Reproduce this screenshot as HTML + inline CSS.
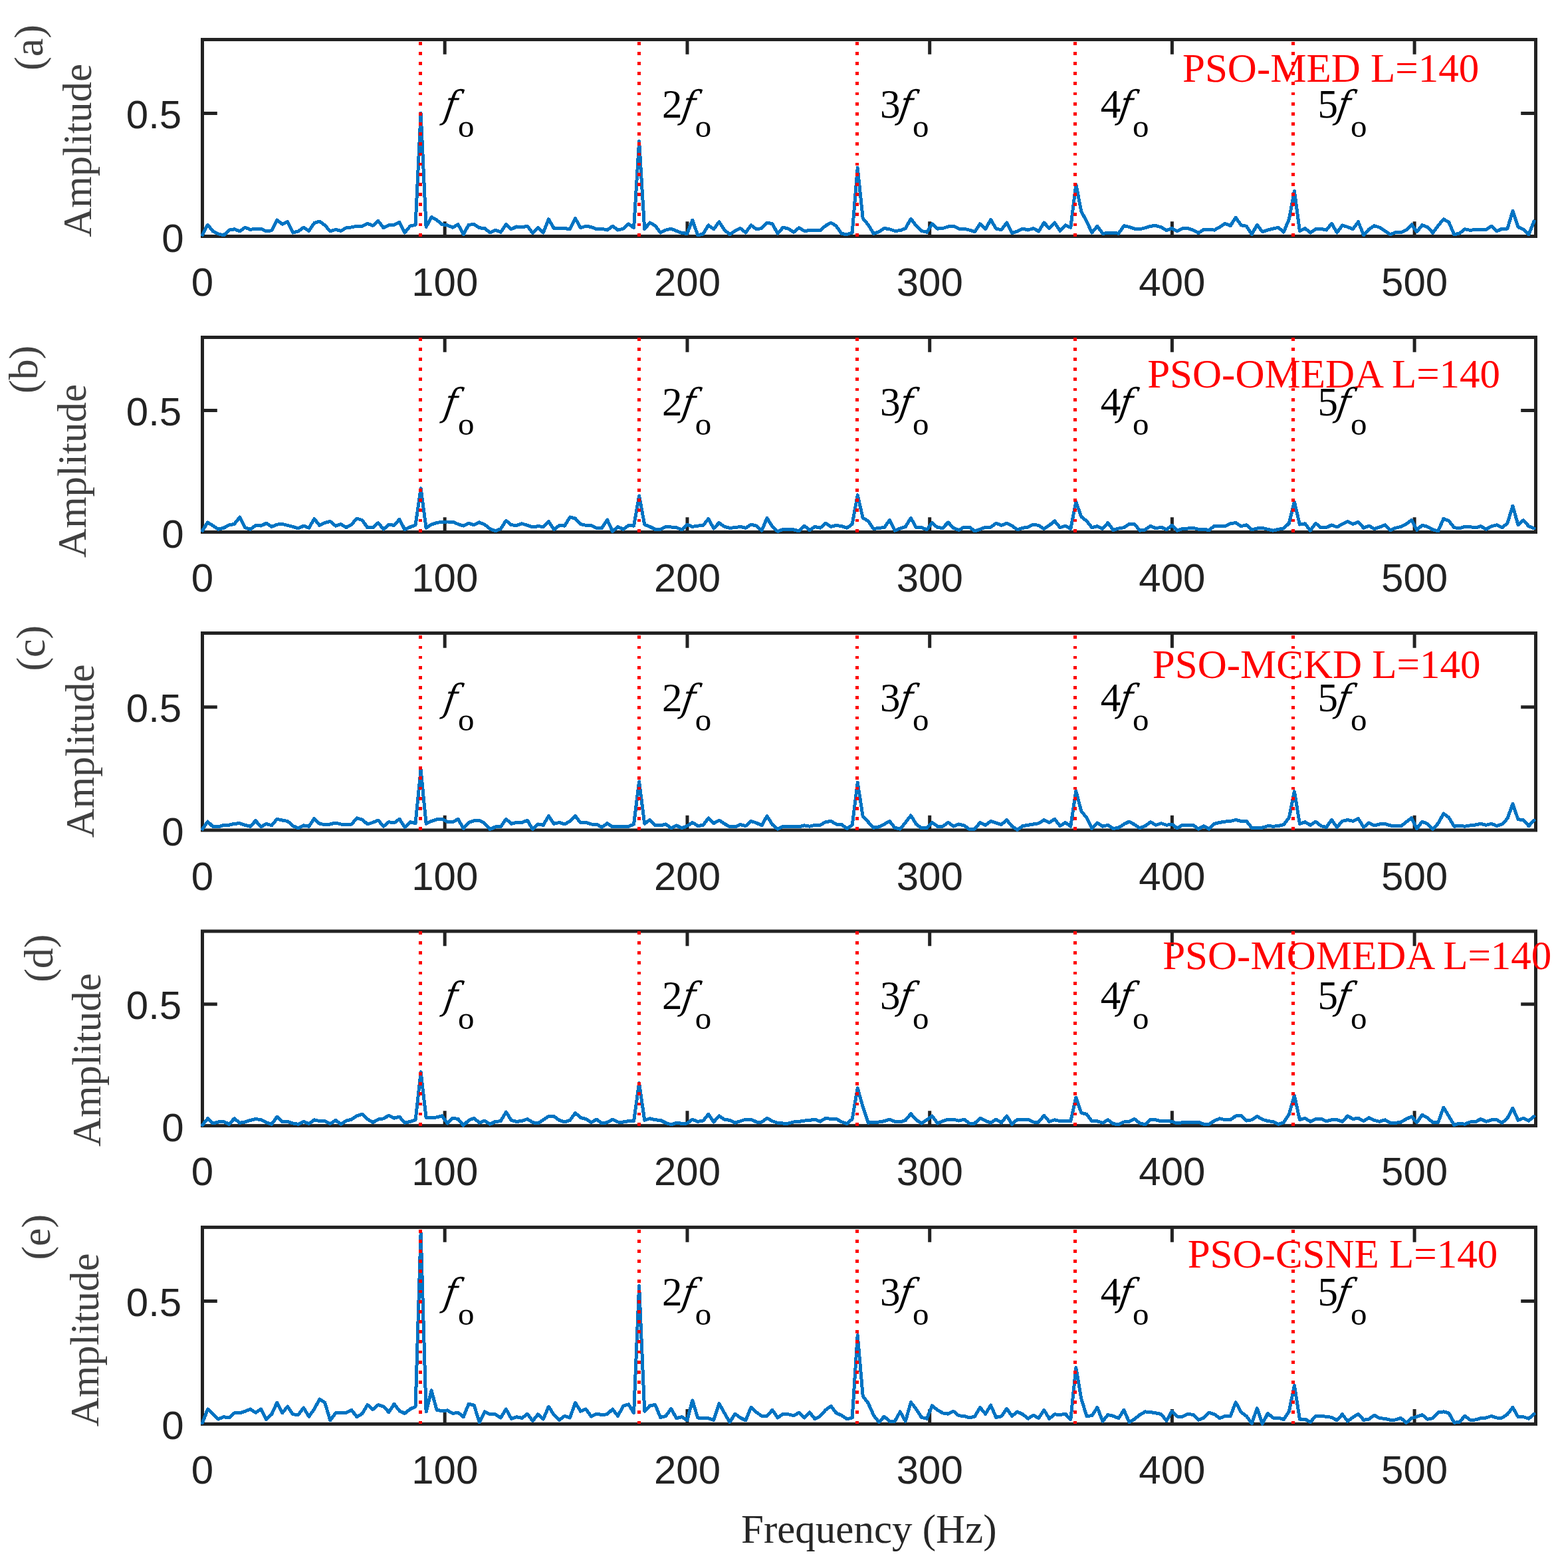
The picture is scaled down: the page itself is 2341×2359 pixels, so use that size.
<!DOCTYPE html><html><head><meta charset="utf-8"><title>Spectra</title><style>html,body{margin:0;padding:0;background:#fff;}svg{display:block;}.tk{font-family:"Liberation Sans",Arial,sans-serif;font-size:60px;fill:#222;}.sf{font-family:"Liberation Serif","Times New Roman",serif;}</style></head><body>
<svg xmlns="http://www.w3.org/2000/svg" width="2341" height="2359" viewBox="0 0 2341 2359">
<rect x="0" y="0" width="2341" height="2359" fill="#fff"/>
<g><rect x="304.5" y="59.5" width="2006.0" height="296.0" fill="none" stroke="#222" stroke-width="5.0"/><path d="M669.2 355.5V333.2M669.2 59.5V81.8M1034.0 355.5V333.2M1034.0 59.5V81.8M1398.7 355.5V333.2M1398.7 59.5V81.8M1763.4 355.5V333.2M1763.4 59.5V81.8M2128.1 355.5V333.2M2128.1 59.5V81.8M304.5 170.5H326.8M2310.5 170.5H2288.2" stroke="#222" stroke-width="5.0" fill="none"/><polyline points="304.5,353.2 312.5,338.2 320.5,348.0 328.5,351.9 336.6,353.9 344.6,346.1 352.6,344.8 360.6,348.0 368.6,342.2 376.6,345.4 384.6,344.1 392.7,344.1 400.7,348.0 408.7,346.7 416.7,331.1 424.7,337.2 432.7,333.7 440.7,350.0 448.8,348.0 456.8,342.2 464.8,347.4 472.8,335.6 480.8,333.0 488.8,338.9 496.8,348.0 504.9,345.4 512.9,347.4 520.9,342.8 528.9,341.9 536.9,340.2 544.9,340.2 552.9,336.3 560.9,339.6 569.0,332.4 577.0,342.8 585.0,338.9 593.0,338.2 601.0,334.3 609.0,350.0 617.0,340.2 625.1,338.2 633.1,170.2 641.1,341.5 649.1,326.5 657.1,331.1 665.1,337.6 673.1,338.9 681.2,342.2 689.2,337.6 697.2,352.6 705.2,338.2 713.2,337.6 721.2,342.8 729.2,343.5 737.3,350.0 745.3,346.1 753.3,349.3 761.3,337.6 769.3,344.8 777.3,340.9 785.3,341.8 793.4,340.2 801.4,350.6 809.4,342.2 817.4,350.0 825.4,329.8 833.4,343.5 841.4,343.5 849.5,343.5 857.5,344.8 865.5,328.5 873.5,342.8 881.5,340.2 889.5,341.5 897.5,344.8 905.5,344.1 913.6,346.1 921.6,340.2 929.6,346.1 937.6,344.1 945.6,336.9 953.6,342.8 961.6,212.5 969.7,344.8 977.7,335.0 985.7,339.6 993.7,350.0 1001.7,346.1 1009.7,344.1 1017.7,347.4 1025.8,350.6 1033.8,351.3 1041.8,331.1 1049.8,353.9 1057.8,351.9 1065.8,338.9 1073.8,344.8 1081.9,333.7 1089.9,346.1 1097.9,352.6 1105.9,347.4 1113.9,343.5 1121.9,350.0 1129.9,338.9 1138.0,344.8 1146.0,343.5 1154.0,335.0 1162.0,336.9 1170.0,351.3 1178.0,342.2 1186.0,344.1 1194.1,349.3 1202.1,342.8 1210.1,347.4 1218.1,346.7 1226.1,346.7 1234.1,346.7 1242.1,339.6 1250.2,335.0 1258.2,340.2 1266.2,351.6 1274.2,352.6 1282.2,350.0 1290.2,252.4 1298.2,328.5 1306.2,338.2 1314.3,351.3 1322.3,348.7 1330.3,343.5 1338.3,344.8 1346.3,347.4 1354.3,346.7 1362.3,343.5 1370.4,329.1 1378.4,339.6 1386.4,347.4 1394.4,349.3 1402.4,336.9 1410.4,344.1 1418.4,343.5 1426.5,340.9 1434.5,340.2 1442.5,344.1 1450.5,344.1 1458.5,346.1 1466.5,348.7 1474.5,336.9 1482.6,344.8 1490.6,330.4 1498.6,344.1 1506.6,345.8 1514.6,335.0 1522.6,350.6 1530.6,348.0 1538.7,344.1 1546.7,346.1 1554.7,343.5 1562.7,348.0 1570.7,335.0 1578.7,343.5 1586.7,335.0 1594.8,347.4 1602.8,338.9 1610.8,342.2 1618.8,277.4 1626.8,318.0 1634.8,333.0 1642.8,350.0 1650.9,340.2 1658.9,351.3 1666.9,350.6 1674.9,350.0 1682.9,351.3 1690.9,339.6 1698.9,341.5 1706.9,344.1 1715.0,344.8 1723.0,342.8 1731.0,340.2 1739.0,339.6 1747.0,341.8 1755.0,346.7 1763.0,343.5 1771.1,348.0 1779.1,343.5 1787.1,343.5 1795.1,346.1 1803.1,350.6 1811.1,345.4 1819.1,345.4 1827.2,346.1 1835.2,341.5 1843.2,336.3 1851.2,339.6 1859.2,327.2 1867.2,338.9 1875.2,340.2 1883.3,352.6 1891.3,338.2 1899.3,348.7 1907.3,346.1 1915.3,344.1 1923.3,342.2 1931.3,349.3 1939.4,329.8 1947.4,287.4 1955.4,347.4 1963.4,343.5 1971.4,350.0 1979.4,344.8 1987.4,344.4 1995.5,346.1 2003.5,336.3 2011.5,350.0 2019.5,338.9 2027.5,341.5 2035.5,344.8 2043.5,333.7 2051.6,353.9 2059.6,344.8 2067.6,339.6 2075.6,342.2 2083.6,347.4 2091.6,352.6 2099.6,349.7 2107.6,350.0 2115.7,346.1 2123.7,337.9 2131.7,348.7 2139.7,338.6 2147.7,341.8 2155.7,350.3 2163.7,339.6 2171.8,329.8 2179.8,334.3 2187.8,352.9 2195.8,351.0 2203.8,344.8 2211.8,346.4 2219.8,345.4 2227.9,345.4 2235.9,345.4 2243.9,340.2 2251.9,348.0 2259.9,344.1 2267.9,344.1 2275.9,317.4 2284.0,341.5 2292.0,345.4 2300.0,352.6 2308.0,333.0" fill="none" stroke="#0073C2" stroke-width="5.0" stroke-linejoin="round" stroke-linecap="round" shape-rendering="crispEdges"/><path d="M632.8 355.5V59.5M961.0 355.5V59.5M1289.3 355.5V59.5M1617.5 355.5V59.5M1945.8 355.5V59.5" stroke="#f00" stroke-width="5" stroke-dasharray="4.8 10.35" fill="none" shape-rendering="crispEdges"/><text class="tk" x="304.5" y="445.1" text-anchor="middle">0</text><text class="tk" x="669.2" y="445.1" text-anchor="middle">100</text><text class="tk" x="1034.0" y="445.1" text-anchor="middle">200</text><text class="tk" x="1398.7" y="445.1" text-anchor="middle">300</text><text class="tk" x="1763.4" y="445.1" text-anchor="middle">400</text><text class="tk" x="2128.1" y="445.1" text-anchor="middle">500</text><text class="tk" x="276.6" y="378.5" text-anchor="end">0</text><text class="tk" x="273.2" y="193.1" text-anchor="end">0.5</text><text transform="translate(665.9,176.9) skewX(-9)" x="0" y="0" font-style="italic" font-family="DejaVu Serif Condensed, Liberation Serif, serif" font-size="57">f</text><text class="sf" font-size="49" x="689.1" y="206.4">o</text><text class="sf" font-size="61" x="996.1" y="176.9">2</text><text transform="translate(1023.9,176.9) skewX(-9)" x="0" y="0" font-style="italic" font-family="DejaVu Serif Condensed, Liberation Serif, serif" font-size="57">f</text><text class="sf" font-size="49" x="1045.8" y="206.4">o</text><text class="sf" font-size="61" x="1324.1" y="176.9">3</text><text transform="translate(1351.0,176.9) skewX(-9)" x="0" y="0" font-style="italic" font-family="DejaVu Serif Condensed, Liberation Serif, serif" font-size="57">f</text><text class="sf" font-size="49" x="1373.1" y="206.4">o</text><text class="sf" font-size="61" x="1655.8" y="176.9">4</text><text transform="translate(1682.0,176.9) skewX(-9)" x="0" y="0" font-style="italic" font-family="DejaVu Serif Condensed, Liberation Serif, serif" font-size="57">f</text><text class="sf" font-size="49" x="1704.1" y="206.4">o</text><text class="sf" font-size="61" x="1982.4" y="176.9">5</text><text transform="translate(2009.5,176.9) skewX(-9)" x="0" y="0" font-style="italic" font-family="DejaVu Serif Condensed, Liberation Serif, serif" font-size="57">f</text><text class="sf" font-size="49" x="2032.1" y="206.4">o</text><text class="sf" x="1779.0" y="123.1" font-size="61" fill="#f00">PSO-MED L=140</text><text class="sf" transform="translate(64.2,106.0) rotate(-90)" font-size="62" fill="#404040">(a)</text><text class="sf" transform="translate(137.0,356.8) rotate(-90)" font-size="61" fill="#404040">Amplitude</text></g>
<g><rect x="304.5" y="507.5" width="2006.0" height="293.0" fill="none" stroke="#222" stroke-width="5.0"/><path d="M669.2 800.5V778.2M669.2 507.5V529.8M1034.0 800.5V778.2M1034.0 507.5V529.8M1398.7 800.5V778.2M1398.7 507.5V529.8M1763.4 800.5V778.2M1763.4 507.5V529.8M2128.1 800.5V778.2M2128.1 507.5V529.8M304.5 617.4H326.8M2310.5 617.4H2288.2" stroke="#222" stroke-width="5.0" fill="none"/><polyline points="304.5,798.2 312.5,785.9 320.5,791.1 328.5,796.3 336.6,794.3 344.6,789.8 352.6,788.5 360.6,778.0 368.6,793.7 376.6,796.3 384.6,790.4 392.7,791.1 400.7,787.2 408.7,792.4 416.7,789.1 424.7,788.5 432.7,790.4 440.7,792.4 448.8,795.0 456.8,791.1 464.8,794.3 472.8,780.6 480.8,790.4 488.8,786.5 496.8,784.5 504.9,791.1 512.9,788.5 520.9,793.7 528.9,789.1 536.9,780.0 544.9,782.6 552.9,793.7 560.9,793.7 569.0,786.5 577.0,796.3 585.0,789.1 593.0,790.4 601.0,781.3 609.0,796.9 617.0,793.0 625.1,789.8 633.1,734.7 641.1,794.3 649.1,789.1 657.1,786.5 665.1,785.2 673.1,785.0 681.2,785.2 689.2,788.5 697.2,791.1 705.2,787.2 713.2,789.8 721.2,785.9 729.2,789.1 737.3,795.6 745.3,798.9 753.3,795.6 761.3,783.2 769.3,789.8 777.3,790.4 785.3,787.8 793.4,790.4 801.4,793.0 809.4,791.7 817.4,792.4 825.4,784.5 833.4,796.9 841.4,790.4 849.5,791.1 857.5,778.0 865.5,780.0 873.5,788.5 881.5,790.4 889.5,790.4 897.5,794.3 905.5,794.3 913.6,782.0 921.6,799.5 929.6,792.4 937.6,796.3 945.6,790.4 953.6,791.1 961.6,745.8 969.7,789.1 977.7,792.4 985.7,796.3 993.7,796.3 1001.7,792.4 1009.7,793.0 1017.7,793.7 1025.8,796.9 1033.8,789.1 1041.8,792.4 1049.8,791.1 1057.8,790.4 1065.8,780.6 1073.8,795.0 1081.9,786.5 1089.9,792.4 1097.9,794.3 1105.9,793.7 1113.9,792.4 1121.9,794.3 1129.9,789.1 1138.0,791.1 1146.0,798.2 1154.0,779.3 1162.0,792.4 1170.0,799.5 1178.0,796.3 1186.0,796.3 1194.1,796.9 1202.1,798.9 1210.1,791.1 1218.1,797.6 1226.1,792.4 1234.1,794.3 1242.1,787.2 1250.2,792.4 1258.2,790.4 1266.2,791.7 1274.2,794.3 1282.2,788.5 1290.2,744.8 1298.2,779.3 1306.2,783.9 1314.3,795.6 1322.3,794.3 1330.3,793.7 1338.3,782.6 1346.3,798.2 1354.3,795.0 1362.3,792.4 1370.4,779.3 1378.4,793.7 1386.4,793.7 1394.4,796.9 1402.4,786.5 1410.4,793.7 1418.4,794.3 1426.5,785.9 1434.5,794.3 1442.5,797.6 1450.5,793.0 1458.5,793.0 1466.5,798.9 1474.5,796.3 1482.6,793.0 1490.6,793.0 1498.6,787.2 1506.6,790.4 1514.6,787.2 1522.6,791.1 1530.6,796.9 1538.7,794.3 1546.7,793.0 1554.7,789.1 1562.7,790.4 1570.7,795.6 1578.7,790.4 1586.7,783.9 1594.8,793.7 1602.8,791.1 1610.8,795.6 1618.8,755.0 1626.8,777.4 1634.8,783.9 1642.8,793.7 1650.9,791.7 1658.9,795.6 1666.9,786.5 1674.9,797.6 1682.9,795.0 1690.9,793.7 1698.9,788.5 1706.9,788.5 1715.0,798.2 1723.0,796.9 1731.0,791.1 1739.0,795.0 1747.0,793.0 1755.0,796.9 1763.0,790.4 1771.1,798.2 1779.1,795.6 1787.1,795.0 1795.1,794.3 1803.1,796.3 1811.1,796.3 1819.1,797.6 1827.2,791.1 1835.2,791.1 1843.2,791.7 1851.2,787.8 1859.2,786.5 1867.2,791.7 1875.2,789.8 1883.3,796.9 1891.3,795.0 1899.3,794.3 1907.3,796.3 1915.3,798.2 1923.3,796.3 1931.3,795.0 1939.4,787.2 1947.4,755.0 1955.4,789.1 1963.4,787.8 1971.4,798.2 1979.4,787.2 1987.4,794.0 1995.5,793.7 2003.5,789.8 2011.5,793.0 2019.5,788.5 2027.5,784.5 2035.5,788.5 2043.5,785.2 2051.6,794.3 2059.6,791.1 2067.6,795.6 2075.6,793.0 2083.6,789.8 2091.6,797.6 2099.6,794.3 2107.6,792.4 2115.7,788.5 2123.7,782.3 2131.7,797.3 2139.7,790.1 2147.7,792.4 2155.7,796.9 2163.7,798.9 2171.8,780.3 2179.8,783.6 2187.8,793.7 2195.8,795.0 2203.8,792.0 2211.8,792.7 2219.8,794.0 2227.9,791.7 2235.9,796.3 2243.9,791.7 2251.9,789.8 2259.9,793.7 2267.9,787.2 2275.9,761.1 2284.0,789.8 2292.0,782.6 2300.0,791.7 2308.0,795.0" fill="none" stroke="#0073C2" stroke-width="5.0" stroke-linejoin="round" stroke-linecap="round" shape-rendering="crispEdges"/><path d="M632.8 800.5V507.5M961.0 800.5V507.5M1289.3 800.5V507.5M1617.5 800.5V507.5M1945.8 800.5V507.5" stroke="#f00" stroke-width="5" stroke-dasharray="4.8 10.35" fill="none" shape-rendering="crispEdges"/><text class="tk" x="304.5" y="890.1" text-anchor="middle">0</text><text class="tk" x="669.2" y="890.1" text-anchor="middle">100</text><text class="tk" x="1034.0" y="890.1" text-anchor="middle">200</text><text class="tk" x="1398.7" y="890.1" text-anchor="middle">300</text><text class="tk" x="1763.4" y="890.1" text-anchor="middle">400</text><text class="tk" x="2128.1" y="890.1" text-anchor="middle">500</text><text class="tk" x="276.6" y="823.5" text-anchor="end">0</text><text class="tk" x="273.2" y="640.0" text-anchor="end">0.5</text><text transform="translate(665.9,624.9) skewX(-9)" x="0" y="0" font-style="italic" font-family="DejaVu Serif Condensed, Liberation Serif, serif" font-size="57">f</text><text class="sf" font-size="49" x="689.1" y="654.4">o</text><text class="sf" font-size="61" x="996.1" y="624.9">2</text><text transform="translate(1023.9,624.9) skewX(-9)" x="0" y="0" font-style="italic" font-family="DejaVu Serif Condensed, Liberation Serif, serif" font-size="57">f</text><text class="sf" font-size="49" x="1045.8" y="654.4">o</text><text class="sf" font-size="61" x="1324.1" y="624.9">3</text><text transform="translate(1351.0,624.9) skewX(-9)" x="0" y="0" font-style="italic" font-family="DejaVu Serif Condensed, Liberation Serif, serif" font-size="57">f</text><text class="sf" font-size="49" x="1373.1" y="654.4">o</text><text class="sf" font-size="61" x="1655.8" y="624.9">4</text><text transform="translate(1682.0,624.9) skewX(-9)" x="0" y="0" font-style="italic" font-family="DejaVu Serif Condensed, Liberation Serif, serif" font-size="57">f</text><text class="sf" font-size="49" x="1704.1" y="654.4">o</text><text class="sf" font-size="61" x="1982.4" y="624.9">5</text><text transform="translate(2009.5,624.9) skewX(-9)" x="0" y="0" font-style="italic" font-family="DejaVu Serif Condensed, Liberation Serif, serif" font-size="57">f</text><text class="sf" font-size="49" x="2032.1" y="654.4">o</text><text class="sf" x="1726.2" y="582.6" font-size="61" fill="#f00">PSO-OMEDA L=140</text><text class="sf" transform="translate(56.0,592.1) rotate(-90)" font-size="62" fill="#404040">(b)</text><text class="sf" transform="translate(128.8,838.9) rotate(-90)" font-size="61" fill="#404040">Amplitude</text></g>
<g><rect x="304.5" y="952.5" width="2006.0" height="296.5" fill="none" stroke="#222" stroke-width="5.0"/><path d="M669.2 1249.0V1226.7M669.2 952.5V974.8M1034.0 1249.0V1226.7M1034.0 952.5V974.8M1398.7 1249.0V1226.7M1398.7 952.5V974.8M1763.4 1249.0V1226.7M1763.4 952.5V974.8M2128.1 1249.0V1226.7M2128.1 952.5V974.8M304.5 1063.7H326.8M2310.5 1063.7H2288.2" stroke="#222" stroke-width="5.0" fill="none"/><polyline points="304.5,1247.2 312.5,1236.1 320.5,1243.9 328.5,1243.9 336.6,1241.3 344.6,1241.3 352.6,1239.3 360.6,1238.7 368.6,1241.3 376.6,1243.2 384.6,1234.8 392.7,1243.9 400.7,1239.3 408.7,1241.9 416.7,1232.2 424.7,1234.1 432.7,1235.4 440.7,1242.6 448.8,1245.8 456.8,1241.9 464.8,1243.2 472.8,1231.5 480.8,1239.3 488.8,1240.6 496.8,1240.0 504.9,1238.0 512.9,1240.0 520.9,1240.6 528.9,1240.0 536.9,1230.9 544.9,1233.1 552.9,1240.0 560.9,1237.4 569.0,1234.1 577.0,1243.2 585.0,1236.7 593.0,1238.0 601.0,1232.2 609.0,1244.5 617.0,1236.7 625.1,1238.7 633.1,1157.6 641.1,1239.3 649.1,1235.4 657.1,1232.8 665.1,1232.2 673.1,1236.1 681.2,1236.7 689.2,1232.2 697.2,1246.5 705.2,1237.4 713.2,1234.8 721.2,1234.1 729.2,1238.7 737.3,1247.8 745.3,1243.9 753.3,1243.9 761.3,1232.2 769.3,1239.3 777.3,1237.4 785.3,1237.4 793.4,1234.1 801.4,1247.8 809.4,1240.0 817.4,1241.3 825.4,1227.6 833.4,1239.3 841.4,1237.4 849.5,1240.0 857.5,1235.4 865.5,1227.6 873.5,1238.0 881.5,1237.4 889.5,1240.0 897.5,1240.0 905.5,1244.5 913.6,1238.7 921.6,1243.9 929.6,1243.2 937.6,1243.2 945.6,1243.2 953.6,1240.0 961.6,1175.8 969.7,1239.3 977.7,1233.5 985.7,1241.9 993.7,1241.9 1001.7,1240.0 1009.7,1245.8 1017.7,1241.9 1025.8,1245.8 1033.8,1242.6 1041.8,1237.4 1049.8,1242.6 1057.8,1241.3 1065.8,1230.9 1073.8,1238.7 1081.9,1234.1 1089.9,1239.3 1097.9,1243.9 1105.9,1243.9 1113.9,1240.6 1121.9,1242.6 1129.9,1235.4 1138.0,1238.0 1146.0,1241.9 1154.0,1227.6 1162.0,1240.6 1170.0,1247.2 1178.0,1243.2 1186.0,1243.9 1194.1,1243.2 1202.1,1243.9 1210.1,1241.9 1218.1,1243.2 1226.1,1241.3 1234.1,1241.3 1242.1,1236.7 1250.2,1235.4 1258.2,1240.0 1266.2,1240.6 1274.2,1246.5 1282.2,1241.3 1290.2,1177.1 1298.2,1228.2 1306.2,1236.7 1314.3,1245.2 1322.3,1243.9 1330.3,1240.0 1338.3,1235.4 1346.3,1245.2 1354.3,1247.2 1362.3,1237.4 1370.4,1226.9 1378.4,1240.0 1386.4,1245.8 1394.4,1245.8 1402.4,1237.4 1410.4,1243.2 1418.4,1243.2 1426.5,1237.4 1434.5,1243.2 1442.5,1240.0 1450.5,1241.9 1458.5,1247.8 1466.5,1247.2 1474.5,1237.4 1482.6,1241.3 1490.6,1235.4 1498.6,1238.0 1506.6,1240.6 1514.6,1233.5 1522.6,1243.2 1530.6,1248.5 1538.7,1242.6 1546.7,1241.3 1554.7,1240.0 1562.7,1238.7 1570.7,1233.5 1578.7,1237.4 1586.7,1232.2 1594.8,1242.6 1602.8,1237.4 1610.8,1243.2 1618.8,1190.2 1626.8,1220.4 1634.8,1230.2 1642.8,1246.5 1650.9,1238.0 1658.9,1243.2 1666.9,1241.3 1674.9,1246.5 1682.9,1245.2 1690.9,1240.0 1698.9,1236.1 1706.9,1240.6 1715.0,1245.8 1723.0,1242.6 1731.0,1236.7 1739.0,1241.3 1747.0,1238.7 1755.0,1241.3 1763.0,1240.0 1771.1,1245.8 1779.1,1241.3 1787.1,1241.9 1795.1,1241.3 1803.1,1247.2 1811.1,1242.6 1819.1,1247.2 1827.2,1239.3 1835.2,1237.4 1843.2,1236.1 1851.2,1235.4 1859.2,1233.5 1867.2,1235.4 1875.2,1235.4 1883.3,1245.2 1891.3,1245.8 1899.3,1245.2 1907.3,1242.6 1915.3,1243.2 1923.3,1242.6 1931.3,1240.6 1939.4,1230.2 1947.4,1190.8 1955.4,1239.3 1963.4,1236.7 1971.4,1241.3 1979.4,1236.1 1987.4,1242.6 1995.5,1244.5 2003.5,1233.5 2011.5,1244.5 2019.5,1235.4 2027.5,1233.5 2035.5,1235.4 2043.5,1231.5 2051.6,1244.5 2059.6,1238.0 2067.6,1241.9 2075.6,1240.0 2083.6,1239.3 2091.6,1241.9 2099.6,1242.9 2107.6,1242.9 2115.7,1236.7 2123.7,1230.5 2131.7,1246.5 2139.7,1236.1 2147.7,1239.3 2155.7,1247.5 2163.7,1238.7 2171.8,1224.0 2179.8,1229.9 2187.8,1243.2 2195.8,1242.3 2203.8,1243.2 2211.8,1241.9 2219.8,1241.0 2227.9,1239.3 2235.9,1241.3 2243.9,1239.3 2251.9,1242.6 2259.9,1240.0 2267.9,1231.5 2275.9,1209.3 2284.0,1232.8 2292.0,1233.5 2300.0,1242.6 2308.0,1234.1" fill="none" stroke="#0073C2" stroke-width="5.0" stroke-linejoin="round" stroke-linecap="round" shape-rendering="crispEdges"/><path d="M632.8 1249.0V952.5M961.0 1249.0V952.5M1289.3 1249.0V952.5M1617.5 1249.0V952.5M1945.8 1249.0V952.5" stroke="#f00" stroke-width="5" stroke-dasharray="4.8 10.35" fill="none" shape-rendering="crispEdges"/><text class="tk" x="304.5" y="1338.6" text-anchor="middle">0</text><text class="tk" x="669.2" y="1338.6" text-anchor="middle">100</text><text class="tk" x="1034.0" y="1338.6" text-anchor="middle">200</text><text class="tk" x="1398.7" y="1338.6" text-anchor="middle">300</text><text class="tk" x="1763.4" y="1338.6" text-anchor="middle">400</text><text class="tk" x="2128.1" y="1338.6" text-anchor="middle">500</text><text class="tk" x="276.6" y="1272.0" text-anchor="end">0</text><text class="tk" x="273.2" y="1086.3" text-anchor="end">0.5</text><text transform="translate(665.9,1069.9) skewX(-9)" x="0" y="0" font-style="italic" font-family="DejaVu Serif Condensed, Liberation Serif, serif" font-size="57">f</text><text class="sf" font-size="49" x="689.1" y="1099.4">o</text><text class="sf" font-size="61" x="996.1" y="1069.9">2</text><text transform="translate(1023.9,1069.9) skewX(-9)" x="0" y="0" font-style="italic" font-family="DejaVu Serif Condensed, Liberation Serif, serif" font-size="57">f</text><text class="sf" font-size="49" x="1045.8" y="1099.4">o</text><text class="sf" font-size="61" x="1324.1" y="1069.9">3</text><text transform="translate(1351.0,1069.9) skewX(-9)" x="0" y="0" font-style="italic" font-family="DejaVu Serif Condensed, Liberation Serif, serif" font-size="57">f</text><text class="sf" font-size="49" x="1373.1" y="1099.4">o</text><text class="sf" font-size="61" x="1655.8" y="1069.9">4</text><text transform="translate(1682.0,1069.9) skewX(-9)" x="0" y="0" font-style="italic" font-family="DejaVu Serif Condensed, Liberation Serif, serif" font-size="57">f</text><text class="sf" font-size="49" x="1704.1" y="1099.4">o</text><text class="sf" font-size="61" x="1982.4" y="1069.9">5</text><text transform="translate(2009.5,1069.9) skewX(-9)" x="0" y="0" font-style="italic" font-family="DejaVu Serif Condensed, Liberation Serif, serif" font-size="57">f</text><text class="sf" font-size="49" x="2032.1" y="1099.4">o</text><text class="sf" x="1733.8" y="1019.6" font-size="61" fill="#f00">PSO-MCKD L=140</text><text class="sf" transform="translate(66.8,1009.6) rotate(-90)" font-size="62" fill="#404040">(c)</text><text class="sf" transform="translate(140.6,1260.3) rotate(-90)" font-size="61" fill="#404040">Amplitude</text></g>
<g><rect x="304.5" y="1401.0" width="2006.0" height="292.6" fill="none" stroke="#222" stroke-width="5.0"/><path d="M669.2 1693.6V1671.3M669.2 1401.0V1423.3M1034.0 1693.6V1671.3M1034.0 1401.0V1423.3M1398.7 1693.6V1671.3M1398.7 1401.0V1423.3M1763.4 1693.6V1671.3M1763.4 1401.0V1423.3M2128.1 1693.6V1671.3M2128.1 1401.0V1423.3M304.5 1510.7H326.8M2310.5 1510.7H2288.2" stroke="#222" stroke-width="5.0" fill="none"/><polyline points="304.5,1692.6 312.5,1682.8 320.5,1690.0 328.5,1688.0 336.6,1687.4 344.6,1691.3 352.6,1682.8 360.6,1689.3 368.6,1688.0 376.6,1685.4 384.6,1683.5 392.7,1684.8 400.7,1688.7 408.7,1691.3 416.7,1680.2 424.7,1687.4 432.7,1687.4 440.7,1690.0 448.8,1691.3 456.8,1687.4 464.8,1690.6 472.8,1684.8 480.8,1686.7 488.8,1686.7 496.8,1690.6 504.9,1685.4 512.9,1691.3 520.9,1686.1 528.9,1684.1 536.9,1678.9 544.9,1676.3 552.9,1683.5 560.9,1688.7 569.0,1684.1 577.0,1682.8 585.0,1678.2 593.0,1682.2 601.0,1680.2 609.0,1689.3 617.0,1687.4 625.1,1684.8 633.1,1612.8 641.1,1681.5 649.1,1681.5 657.1,1680.9 665.1,1678.9 673.1,1690.0 681.2,1682.2 689.2,1683.5 697.2,1693.2 705.2,1685.4 713.2,1682.2 721.2,1689.3 729.2,1686.1 737.3,1691.3 745.3,1687.4 753.3,1686.7 761.3,1673.0 769.3,1685.4 777.3,1687.4 785.3,1686.4 793.4,1683.5 801.4,1688.7 809.4,1690.0 817.4,1684.8 825.4,1679.5 833.4,1679.5 841.4,1685.4 849.5,1688.0 857.5,1685.4 865.5,1674.3 873.5,1681.5 881.5,1683.5 889.5,1688.7 897.5,1684.1 905.5,1690.0 913.6,1688.7 921.6,1684.1 929.6,1688.0 937.6,1688.0 945.6,1686.7 953.6,1686.7 961.6,1629.1 969.7,1685.4 977.7,1682.8 985.7,1684.8 993.7,1685.4 1001.7,1689.3 1009.7,1691.9 1017.7,1689.3 1025.8,1690.3 1033.8,1690.0 1041.8,1684.1 1049.8,1687.4 1057.8,1686.1 1065.8,1676.3 1073.8,1688.0 1081.9,1678.9 1089.9,1684.1 1097.9,1685.4 1105.9,1689.3 1113.9,1686.7 1121.9,1684.1 1129.9,1684.1 1138.0,1688.0 1146.0,1688.0 1154.0,1682.2 1162.0,1686.7 1170.0,1689.3 1178.0,1690.0 1186.0,1690.0 1194.1,1688.0 1202.1,1687.4 1210.1,1686.1 1218.1,1685.4 1226.1,1684.1 1234.1,1687.4 1242.1,1682.2 1250.2,1683.5 1258.2,1683.5 1266.2,1687.7 1274.2,1690.6 1282.2,1683.5 1290.2,1636.9 1298.2,1665.2 1306.2,1689.3 1314.3,1688.0 1322.3,1688.0 1330.3,1686.7 1338.3,1684.1 1346.3,1687.4 1354.3,1688.0 1362.3,1685.4 1370.4,1675.6 1378.4,1684.8 1386.4,1690.0 1394.4,1684.8 1402.4,1678.9 1410.4,1690.0 1418.4,1686.7 1426.5,1684.1 1434.5,1684.1 1442.5,1686.1 1450.5,1684.1 1458.5,1690.0 1466.5,1690.0 1474.5,1682.2 1482.6,1686.1 1490.6,1689.3 1498.6,1684.1 1506.6,1689.0 1514.6,1678.9 1522.6,1691.3 1530.6,1684.1 1538.7,1684.1 1546.7,1684.1 1554.7,1688.0 1562.7,1688.0 1570.7,1678.2 1578.7,1687.4 1586.7,1684.8 1594.8,1686.7 1602.8,1686.7 1610.8,1686.7 1618.8,1651.2 1626.8,1674.3 1634.8,1676.3 1642.8,1686.7 1650.9,1686.7 1658.9,1689.3 1666.9,1684.8 1674.9,1690.6 1682.9,1691.9 1690.9,1688.0 1698.9,1687.4 1706.9,1683.5 1715.0,1690.0 1723.0,1691.9 1731.0,1684.1 1739.0,1684.8 1747.0,1687.0 1755.0,1686.1 1763.0,1687.4 1771.1,1690.0 1779.1,1688.7 1787.1,1688.0 1795.1,1688.0 1803.1,1688.0 1811.1,1691.3 1819.1,1691.3 1827.2,1686.1 1835.2,1682.8 1843.2,1684.8 1851.2,1684.8 1859.2,1678.9 1867.2,1678.2 1875.2,1686.1 1883.3,1684.8 1891.3,1679.5 1899.3,1684.1 1907.3,1686.7 1915.3,1687.4 1923.3,1691.3 1931.3,1688.7 1939.4,1676.3 1947.4,1648.0 1955.4,1684.8 1963.4,1682.2 1971.4,1687.4 1979.4,1683.5 1987.4,1683.1 1995.5,1686.7 2003.5,1684.8 2011.5,1684.8 2019.5,1687.4 2027.5,1678.9 2035.5,1683.5 2043.5,1682.2 2051.6,1686.7 2059.6,1681.5 2067.6,1685.4 2075.6,1687.4 2083.6,1684.8 2091.6,1689.3 2099.6,1689.3 2107.6,1688.3 2115.7,1683.5 2123.7,1679.9 2131.7,1688.7 2139.7,1677.3 2147.7,1681.8 2155.7,1688.7 2163.7,1688.7 2171.8,1666.2 2179.8,1679.2 2187.8,1692.6 2195.8,1690.0 2203.8,1691.3 2211.8,1688.0 2219.8,1687.7 2227.9,1683.5 2235.9,1687.4 2243.9,1684.8 2251.9,1684.8 2259.9,1689.3 2267.9,1682.2 2275.9,1667.2 2284.0,1685.4 2292.0,1682.2 2300.0,1686.1 2308.0,1679.5" fill="none" stroke="#0073C2" stroke-width="5.0" stroke-linejoin="round" stroke-linecap="round" shape-rendering="crispEdges"/><path d="M632.8 1693.6V1401.0M961.0 1693.6V1401.0M1289.3 1693.6V1401.0M1617.5 1693.6V1401.0M1945.8 1693.6V1401.0" stroke="#f00" stroke-width="5" stroke-dasharray="4.8 10.35" fill="none" shape-rendering="crispEdges"/><text class="tk" x="304.5" y="1783.2" text-anchor="middle">0</text><text class="tk" x="669.2" y="1783.2" text-anchor="middle">100</text><text class="tk" x="1034.0" y="1783.2" text-anchor="middle">200</text><text class="tk" x="1398.7" y="1783.2" text-anchor="middle">300</text><text class="tk" x="1763.4" y="1783.2" text-anchor="middle">400</text><text class="tk" x="2128.1" y="1783.2" text-anchor="middle">500</text><text class="tk" x="276.6" y="1716.6" text-anchor="end">0</text><text class="tk" x="273.2" y="1533.3" text-anchor="end">0.5</text><text transform="translate(665.9,1518.4) skewX(-9)" x="0" y="0" font-style="italic" font-family="DejaVu Serif Condensed, Liberation Serif, serif" font-size="57">f</text><text class="sf" font-size="49" x="689.1" y="1547.9">o</text><text class="sf" font-size="61" x="996.1" y="1518.4">2</text><text transform="translate(1023.9,1518.4) skewX(-9)" x="0" y="0" font-style="italic" font-family="DejaVu Serif Condensed, Liberation Serif, serif" font-size="57">f</text><text class="sf" font-size="49" x="1045.8" y="1547.9">o</text><text class="sf" font-size="61" x="1324.1" y="1518.4">3</text><text transform="translate(1351.0,1518.4) skewX(-9)" x="0" y="0" font-style="italic" font-family="DejaVu Serif Condensed, Liberation Serif, serif" font-size="57">f</text><text class="sf" font-size="49" x="1373.1" y="1547.9">o</text><text class="sf" font-size="61" x="1655.8" y="1518.4">4</text><text transform="translate(1682.0,1518.4) skewX(-9)" x="0" y="0" font-style="italic" font-family="DejaVu Serif Condensed, Liberation Serif, serif" font-size="57">f</text><text class="sf" font-size="49" x="1704.1" y="1547.9">o</text><text class="sf" font-size="61" x="1982.4" y="1518.4">5</text><text transform="translate(2009.5,1518.4) skewX(-9)" x="0" y="0" font-style="italic" font-family="DejaVu Serif Condensed, Liberation Serif, serif" font-size="57">f</text><text class="sf" font-size="49" x="2032.1" y="1547.9">o</text><text class="sf" x="1749.2" y="1457.5" font-size="61" fill="#f00">PSO-MOMEDA L=140</text><text class="sf" transform="translate(79.0,1477.8) rotate(-90)" font-size="62" fill="#404040">(d)</text><text class="sf" transform="translate(151.4,1725.1) rotate(-90)" font-size="61" fill="#404040">Amplitude</text></g>
<g><rect x="304.5" y="1846.4" width="2006.0" height="296.0" fill="none" stroke="#222" stroke-width="5.0"/><path d="M669.2 2142.4V2120.1M669.2 1846.4V1868.7M1034.0 2142.4V2120.1M1034.0 1846.4V1868.7M1398.7 2142.4V2120.1M1398.7 1846.4V1868.7M1763.4 2142.4V2120.1M1763.4 1846.4V1868.7M2128.1 2142.4V2120.1M2128.1 1846.4V1868.7M304.5 1957.4H326.8M2310.5 1957.4H2288.2" stroke="#222" stroke-width="5.0" fill="none"/><polyline points="304.5,2140.9 312.5,2120.0 320.5,2127.8 328.5,2135.0 336.6,2131.7 344.6,2133.0 352.6,2125.9 360.6,2125.9 368.6,2123.2 376.6,2120.0 384.6,2125.2 392.7,2120.0 400.7,2135.6 408.7,2127.8 416.7,2110.2 424.7,2125.9 432.7,2116.1 440.7,2127.8 448.8,2128.5 456.8,2118.0 464.8,2131.1 472.8,2120.0 480.8,2105.0 488.8,2110.2 496.8,2136.9 504.9,2125.9 512.9,2125.9 520.9,2125.2 528.9,2121.3 536.9,2131.7 544.9,2126.8 552.9,2113.5 560.9,2120.6 569.0,2113.5 577.0,2116.1 585.0,2124.6 593.0,2112.2 601.0,2122.6 609.0,2126.5 617.0,2120.0 625.1,2116.1 633.1,1854.7 641.1,2123.9 649.1,2091.9 657.1,2121.3 665.1,2122.6 673.1,2121.9 681.2,2126.5 689.2,2125.2 697.2,2131.7 705.2,2112.2 713.2,2114.1 721.2,2139.6 729.2,2123.9 737.3,2127.8 745.3,2127.8 753.3,2133.0 761.3,2120.0 769.3,2134.3 777.3,2131.7 785.3,2133.4 793.4,2127.2 801.4,2137.6 809.4,2127.8 817.4,2135.0 825.4,2116.1 833.4,2128.5 841.4,2136.3 849.5,2130.4 857.5,2133.0 865.5,2110.2 873.5,2123.2 881.5,2120.0 889.5,2131.1 897.5,2127.2 905.5,2128.5 913.6,2127.8 921.6,2120.0 929.6,2130.4 937.6,2115.4 945.6,2112.8 953.6,2125.9 961.6,1934.4 969.7,2123.2 977.7,2114.8 985.7,2113.5 993.7,2132.4 1001.7,2130.4 1009.7,2119.3 1017.7,2133.7 1025.8,2131.7 1033.8,2136.9 1041.8,2106.9 1049.8,2133.0 1057.8,2133.0 1065.8,2133.7 1073.8,2136.3 1081.9,2111.5 1089.9,2125.9 1097.9,2139.6 1105.9,2127.2 1113.9,2133.0 1121.9,2136.9 1129.9,2117.4 1138.0,2124.6 1146.0,2130.4 1154.0,2130.4 1162.0,2121.3 1170.0,2133.0 1178.0,2127.2 1186.0,2127.8 1194.1,2129.8 1202.1,2125.2 1210.1,2133.0 1218.1,2124.6 1226.1,2135.0 1234.1,2130.4 1242.1,2121.3 1250.2,2115.4 1258.2,2125.9 1266.2,2129.4 1274.2,2135.0 1282.2,2133.0 1290.2,2008.5 1298.2,2100.4 1306.2,2110.9 1314.3,2129.1 1322.3,2139.6 1330.3,2131.1 1338.3,2138.2 1346.3,2138.2 1354.3,2123.9 1362.3,2138.2 1370.4,2109.6 1378.4,2120.0 1386.4,2132.4 1394.4,2134.3 1402.4,2114.8 1410.4,2121.3 1418.4,2125.9 1426.5,2127.2 1434.5,2123.2 1442.5,2129.8 1450.5,2130.4 1458.5,2133.0 1466.5,2131.1 1474.5,2117.4 1482.6,2127.2 1490.6,2114.1 1498.6,2132.4 1506.6,2130.8 1514.6,2119.3 1522.6,2130.4 1530.6,2123.9 1538.7,2127.8 1546.7,2134.3 1554.7,2129.1 1562.7,2133.7 1570.7,2121.3 1578.7,2134.3 1586.7,2127.8 1594.8,2128.5 1602.8,2127.2 1610.8,2135.6 1618.8,2057.4 1626.8,2104.3 1634.8,2130.4 1642.8,2129.8 1650.9,2117.4 1658.9,2138.2 1666.9,2128.5 1674.9,2130.4 1682.9,2133.7 1690.9,2121.3 1698.9,2139.6 1706.9,2135.0 1715.0,2128.5 1723.0,2123.9 1731.0,2124.6 1739.0,2125.9 1747.0,2127.5 1755.0,2137.6 1763.0,2123.2 1771.1,2131.1 1779.1,2131.1 1787.1,2127.2 1795.1,2128.5 1803.1,2136.3 1811.1,2133.0 1819.1,2125.2 1827.2,2127.8 1835.2,2133.7 1843.2,2130.4 1851.2,2130.4 1859.2,2109.6 1867.2,2124.6 1875.2,2130.4 1883.3,2141.5 1891.3,2118.7 1899.3,2142.2 1907.3,2126.5 1915.3,2133.0 1923.3,2133.0 1931.3,2135.6 1939.4,2123.2 1947.4,2084.5 1955.4,2135.0 1963.4,2135.0 1971.4,2139.6 1979.4,2130.4 1987.4,2130.8 1995.5,2131.1 2003.5,2132.4 2011.5,2136.9 2019.5,2127.8 2027.5,2138.2 2035.5,2132.4 2043.5,2127.2 2051.6,2136.3 2059.6,2135.0 2067.6,2129.1 2075.6,2133.7 2083.6,2134.3 2091.6,2136.3 2099.6,2136.0 2107.6,2133.4 2115.7,2140.5 2123.7,2133.7 2131.7,2131.4 2139.7,2128.5 2147.7,2135.3 2155.7,2133.7 2163.7,2124.9 2171.8,2123.9 2179.8,2125.9 2187.8,2140.2 2195.8,2139.6 2203.8,2130.1 2211.8,2136.3 2219.8,2136.0 2227.9,2133.7 2235.9,2133.0 2243.9,2130.4 2251.9,2133.0 2259.9,2133.0 2267.9,2127.8 2275.9,2117.4 2284.0,2131.7 2292.0,2131.7 2300.0,2134.3 2308.0,2127.2" fill="none" stroke="#0073C2" stroke-width="5.0" stroke-linejoin="round" stroke-linecap="round" shape-rendering="crispEdges"/><path d="M632.8 2142.4V1846.4M961.0 2142.4V1846.4M1289.3 2142.4V1846.4M1617.5 2142.4V1846.4M1945.8 2142.4V1846.4" stroke="#f00" stroke-width="5" stroke-dasharray="4.8 10.35" fill="none" shape-rendering="crispEdges"/><text class="tk" x="304.5" y="2232.0" text-anchor="middle">0</text><text class="tk" x="669.2" y="2232.0" text-anchor="middle">100</text><text class="tk" x="1034.0" y="2232.0" text-anchor="middle">200</text><text class="tk" x="1398.7" y="2232.0" text-anchor="middle">300</text><text class="tk" x="1763.4" y="2232.0" text-anchor="middle">400</text><text class="tk" x="2128.1" y="2232.0" text-anchor="middle">500</text><text class="tk" x="276.6" y="2165.4" text-anchor="end">0</text><text class="tk" x="273.2" y="1980.0" text-anchor="end">0.5</text><text transform="translate(665.9,1963.8) skewX(-9)" x="0" y="0" font-style="italic" font-family="DejaVu Serif Condensed, Liberation Serif, serif" font-size="57">f</text><text class="sf" font-size="49" x="689.1" y="1993.3">o</text><text class="sf" font-size="61" x="996.1" y="1963.8">2</text><text transform="translate(1023.9,1963.8) skewX(-9)" x="0" y="0" font-style="italic" font-family="DejaVu Serif Condensed, Liberation Serif, serif" font-size="57">f</text><text class="sf" font-size="49" x="1045.8" y="1993.3">o</text><text class="sf" font-size="61" x="1324.1" y="1963.8">3</text><text transform="translate(1351.0,1963.8) skewX(-9)" x="0" y="0" font-style="italic" font-family="DejaVu Serif Condensed, Liberation Serif, serif" font-size="57">f</text><text class="sf" font-size="49" x="1373.1" y="1993.3">o</text><text class="sf" font-size="61" x="1655.8" y="1963.8">4</text><text transform="translate(1682.0,1963.8) skewX(-9)" x="0" y="0" font-style="italic" font-family="DejaVu Serif Condensed, Liberation Serif, serif" font-size="57">f</text><text class="sf" font-size="49" x="1704.1" y="1993.3">o</text><text class="sf" font-size="61" x="1982.4" y="1963.8">5</text><text transform="translate(2009.5,1963.8) skewX(-9)" x="0" y="0" font-style="italic" font-family="DejaVu Serif Condensed, Liberation Serif, serif" font-size="57">f</text><text class="sf" font-size="49" x="2032.1" y="1993.3">o</text><text class="sf" x="1786.7" y="1906.6" font-size="61" fill="#f00">PSO-CSNE L=140</text><text class="sf" transform="translate(75.1,1895.6) rotate(-90)" font-size="62" fill="#404040">(e)</text><text class="sf" transform="translate(147.5,2146.3) rotate(-90)" font-size="61" fill="#404040">Amplitude</text></g>
<text class="sf" x="1115" y="2321.1" font-size="61" fill="#262626">Frequency (Hz)</text>
</svg></body></html>
